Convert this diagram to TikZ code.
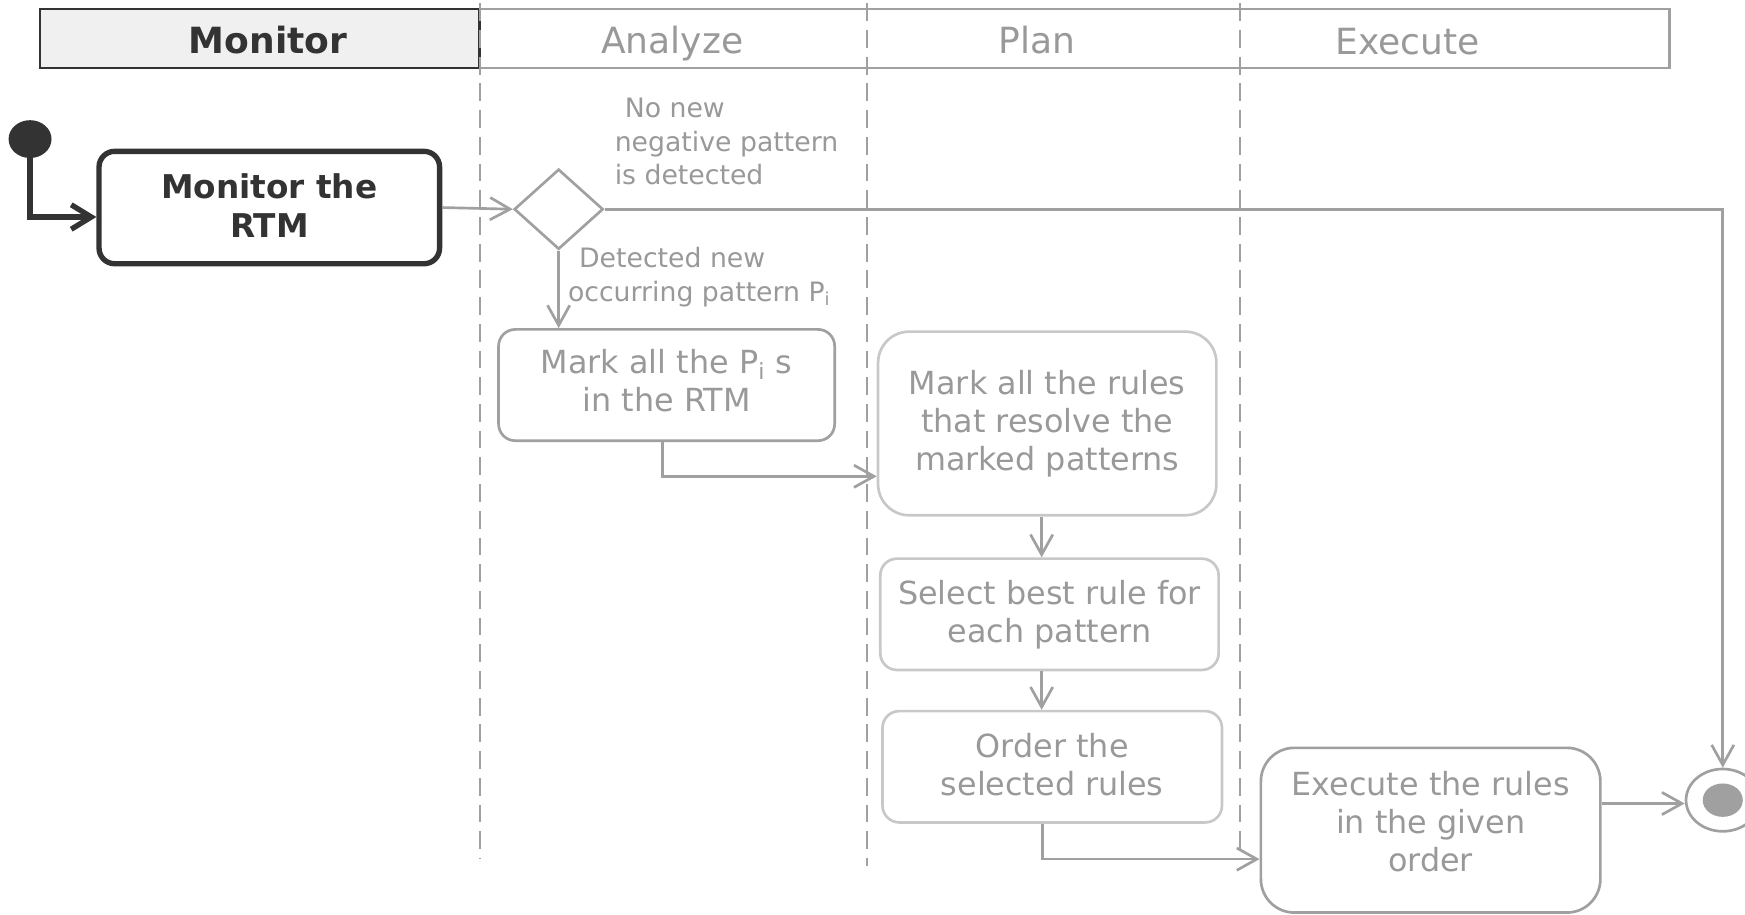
\documentclass[tikz,border=0pt]{standalone}
\usepackage{fontspec}
\setmainfont{DejaVu Sans}
\usetikzlibrary{shapes.geometric,arrows.meta}
\definecolor{ink}{HTML}{333333}
\definecolor{flow}{HTML}{A0A0A0}
\definecolor{txt}{HTML}{999999}
\definecolor{pale}{HTML}{C8C8C8}
\definecolor{headfill}{HTML}{F0F0F0}
% lift a multi-line label inside its box without changing the box size
\newcommand{\liftlines}[2]{\raisebox{#1}[\height][\depth]{\begin{tabular}{@{}c@{}}#2\end{tabular}}}
\begin{document}
\begin{tikzpicture}[x=0.5pt,y=-0.5pt,
  flowline/.style={draw=flow,line width=1.2pt,-{Straight Barb[length=9pt,width=10pt]}},
  darkline/.style={draw=ink,line width=2.4pt,-{Straight Barb[length=9pt,width=11pt]}},
  act/.style={draw=flow,line width=1.2pt,rounded corners=7.5pt,text=txt,align=center,
    font=\fontsize{14.3}{17}\selectfont,inner sep=0pt},
  lane/.style={draw=flow,line width=1pt,dash pattern=on 8pt off 4pt},
  hdr/.style={font=\fontsize{16.2}{19}\selectfont,text=txt,anchor=base,inner sep=0pt},
  guard/.style={text=txt,align=left,anchor=north west,inner sep=0pt,
    font=\fontsize{12}{15}\selectfont},
]
\useasboundingbox (0,0) rectangle (1568,822);

% swimlane header
\draw[draw=flow,line width=1.2pt] (431,8) rectangle (1500,61);
\draw[draw=ink,line width=1.2pt,fill=headfill] (36,8) rectangle (431,61);
\node[hdr,text=ink,font=\bfseries\fontsize{16.2}{19}\selectfont] (hmon) at (241,48) {Monitor};
\node[hdr] (hana) at (604,48) {Analyze};
\node[hdr] (hpla) at (932,48) {Plan};
\node[hdr] (hexe) at (1265,49) {Execute};

% lane separators
\draw[lane] (431,3) -- (431,772);
\draw[lane] (779,3) -- (779,778);
\draw[lane] (1114,3) -- (1114,765);

% activity nodes
\node[ellipse,fill=ink,minimum width=19.3pt,minimum height=17pt,inner sep=0pt] (start) at (27,125) {};
\node[act,draw=ink,line width=2.4pt,text=ink,rounded corners=7pt,
  font=\bfseries\fontsize{14.7}{17.5}\selectfont,
  minimum width=153pt,minimum height=50.5pt] (mon) at (242,186.5) {\liftlines{-1pt}{Monitor the\\RTM}};
\node[diamond,draw=flow,line width=1.2pt,minimum width=40pt,minimum height=36pt,inner sep=0pt] (dec) at (502,188) {};
\node[act,minimum width=151pt,minimum height=50pt] (markp) at (599,346)
  {\liftlines{0pt}{Mark all the P\textsubscript{i} s\\in the RTM}};
\node[act,draw=pale,rounded corners=14pt,minimum width=152pt,minimum height=82.5pt] (markr) at (941,380.5)
  {Mark all the rules\\that resolve the\\marked patterns};
\node[act,draw=pale,minimum width=152pt,minimum height=50pt] (sel) at (943,552)
  {Select best rule for\\each pattern};
\node[act,draw=pale,minimum width=152.5pt,minimum height=50pt] (ord) at (945.5,689)
  {\liftlines{-1pt}{Order the\\selected rules}};
\node[act,rounded corners=15pt,minimum width=152.5pt,minimum height=74pt] (exe) at (1285.5,746)
  {\liftlines{2pt}{Execute the rules\\in the given\\order}};
\node[ellipse,draw=flow,line width=1.2pt,minimum width=33pt,minimum height=28pt,inner sep=0pt] (fin) at (1548,719) {};
\node[ellipse,fill=flow,minimum width=18pt,minimum height=15pt,inner sep=0pt] (fincore) at (fin) {};

% guard labels
\node[guard] (gno) at (552,88) {\hspace*{4.5pt}No new\\negative pattern\\is detected};
\node[guard] (gyes) at (510,222) {\hspace*{5pt}Detected new\\occurring pattern P\textsubscript{i}};

% control flow
\draw[darkline] (start.south) |- ([yshift=-4.25pt]mon.west);
\draw[flowline] (mon.east) -- (dec.west);
\draw[flowline] (dec.east) -| (fin.north);
\draw[flowline] (dec.south) -- (dec.south |- markp.north);
\draw[flowline] ([xshift=-2pt]markp.south) |- ([yshift=-23.75pt]markr.west);
\draw[flowline] ([xshift=-2.5pt]markr.south) -- ([xshift=-2.5pt]markr.south |- sel.north);
\draw[flowline] ([xshift=-3.5pt]sel.south) -- ([xshift=-3.5pt]sel.south |- ord.north);
\draw[flowline] ([xshift=-4.25pt]ord.south) |- ([yshift=-13pt]exe.west);
\draw[flowline] ([yshift=-1.5pt]exe.east |- fin.west) -- ([yshift=-1.5pt]fin.west);
\end{tikzpicture}
\end{document}
